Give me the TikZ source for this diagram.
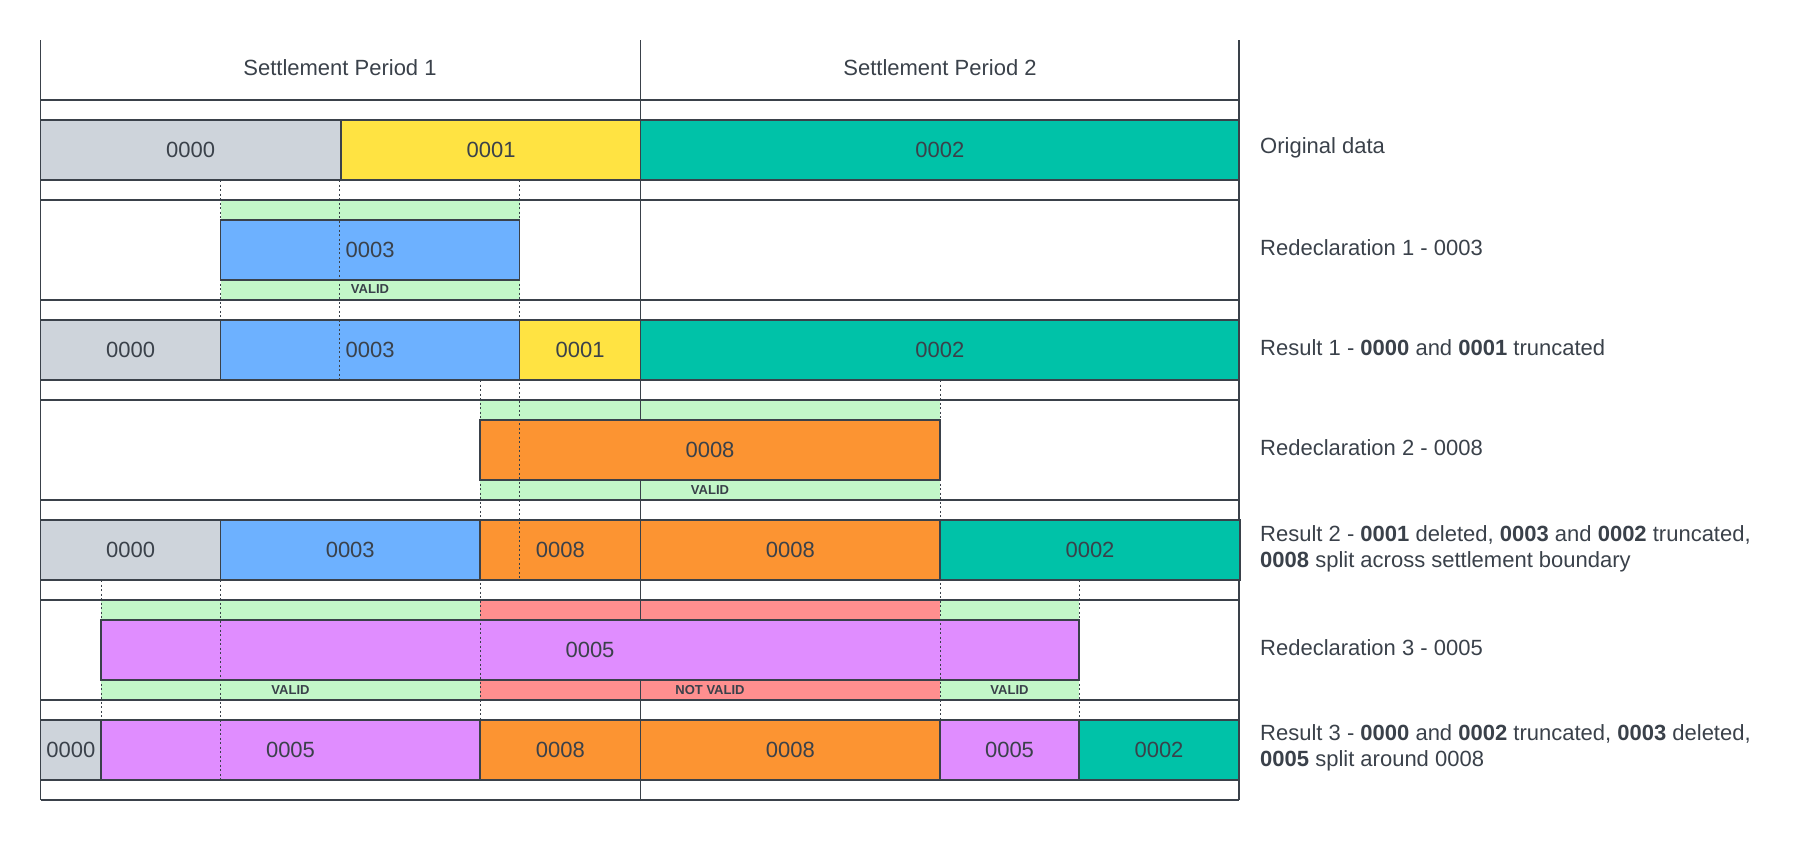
\documentclass[tikz,border=0pt]{standalone}
\usepackage{fontspec}
\setmainfont{Liberation Sans}
\definecolor{ink}{HTML}{3A414A}
\definecolor{cgray}{HTML}{CED4DB}
\definecolor{cyellow}{HTML}{FFE342}
\definecolor{cteal}{HTML}{00C2A8}
\definecolor{cblue}{HTML}{6DB1FF}
\definecolor{corange}{HTML}{FC9432}
\definecolor{cpurple}{HTML}{E08DFF}
\definecolor{bgreen}{HTML}{C3F7C8}
\definecolor{bred}{HTML}{FF8F8F}
\tikzset{
  gridline/.style={draw=ink, line width=1.3pt},
  barbox/.style={draw=ink, line width=1.3pt, minimum height=60pt, inner sep=0pt, outer sep=0pt,
    text=ink, font=\fontsize{22}{26}\selectfont, anchor=west},
  guide/.style={draw=ink, line width=0.8pt, dash pattern=on 2pt off 2.5pt},
  tag/.style={text=ink, font=\bfseries\fontsize{13}{15}\selectfont, inner sep=0pt},
  rowlabel/.style={text=ink, font=\fontsize{22}{26}\selectfont, anchor=west, align=left, inner sep=0pt},
  headlabel/.style={text=ink, font=\fontsize{22}{26}\selectfont, inner sep=0pt},
}
\newcommand\segbar[6]{\node[barbox, fill=#4, minimum width={#2-#1}] (#6) at (#1,#3) {#5};}
\begin{document}
\begin{tikzpicture}[x=1pt,y=-1pt]
\useasboundingbox (0,0) rectangle (1820,841);
% validity bands
\fill[bgreen] (220.5,200) rectangle (519.6,220);
\fill[bgreen] (220.5,280) rectangle (519.6,300);
\fill[bgreen] (480,400) rectangle (940,420);
\fill[bgreen] (480,480) rectangle (940,500);
\fill[bgreen] (101,600) rectangle (480,620);
\fill[bgreen] (101,680) rectangle (480,700);
\fill[bred] (480,600) rectangle (940,620);
\fill[bred] (480,680) rectangle (940,700);
\fill[bgreen] (940,600) rectangle (1079,620);
\fill[bgreen] (940,680) rectangle (1079,700);
% grid
\foreach \yy in {100,200,...,800} {\draw[gridline] (40.6,\yy) -- (1239,\yy);}
\draw[gridline] (40.6,40) -- (40.6,800);
\draw[gridline] (640.6,40) -- (640.6,800);
\draw[gridline] (1239,40) -- (1239,800);
% header
\node[headlabel] (sp1) at (340,68) {Settlement Period 1};
\node[headlabel] (sp2) at (940,68) {Settlement Period 2};
% row 1
\segbar{40.6}{340.6}{150}{cgray}{0000}{r1a}
\segbar{341.8}{640.6}{150}{cyellow}{0001}{r1b}
\segbar{640.6}{1239}{150}{cteal}{0002}{r1c}
% row 2
\segbar{220.5}{519.6}{250}{cblue}{0003}{r2a}
\node[tag] (v1) at (370,289) {VALID};
% row 3
\segbar{40.6}{220.5}{350}{cgray}{0000}{r3a}
\segbar{220.5}{519.6}{350}{cblue}{0003}{r3b}
\segbar{519.6}{640.6}{350}{cyellow}{0001}{r3c}
\segbar{640.6}{1239}{350}{cteal}{0002}{r3d}
% row 4
\segbar{480}{940}{450}{corange}{0008}{r4a}
\node[tag] (v2) at (710,490) {VALID};
% row 5
\segbar{40.6}{220.5}{550}{cgray}{0000}{r5a}
\segbar{220.5}{480}{550}{cblue}{0003}{r5b}
\segbar{480}{640.6}{550}{corange}{0008}{r5c}
\segbar{640.6}{940}{550}{corange}{0008}{r5d}
\segbar{940}{1240}{550}{cteal}{0002}{r5e}
% row 6
\segbar{101}{1079}{650}{cpurple}{0005}{r6a}
\node[tag] (v3) at (290.5,690) {VALID};
\node[tag] (nv) at (710,690) {NOT VALID};
\node[tag] (v4) at (1009.5,690) {VALID};
% row 7
\segbar{40.6}{101}{750}{cgray}{0000}{r7a}
\segbar{101}{480}{750}{cpurple}{0005}{r7b}
\segbar{480}{640.6}{750}{corange}{0008}{r7c}
\segbar{640.6}{940}{750}{corange}{0008}{r7d}
\segbar{940}{1079}{750}{cpurple}{0005}{r7e}
\segbar{1079}{1239}{750}{cteal}{0002}{r7f}
% guide lines
\draw[guide] (220.5,180) -- (220.5,320);
\draw[guide] (339.5,180) -- (339.5,380);
\draw[guide] (519.6,180) -- (519.6,580);
\draw[guide] (480,380) -- (480,720);
\draw[guide] (940,380) -- (940,720);
\draw[guide] (101,580) -- (101,720);
\draw[guide] (220.5,580) -- (220.5,780);
\draw[guide] (1079,580) -- (1079,720);
% row labels
\node[rowlabel] (l1) at (1260,148) {Original data};
\node[rowlabel] (l2) at (1260,248) {Redeclaration 1 - 0003};
\node[rowlabel] (l3) at (1260,348) {Result 1 - \textbf{0000} and \textbf{0001} truncated};
\node[rowlabel] (l4) at (1260,448) {Redeclaration 2 - 0008};
\node[rowlabel] (l5) at (1260,549) {Result 2 - \textbf{0001} deleted, \textbf{0003} and \textbf{0002} truncated,\\\textbf{0008} split across settlement boundary};
\node[rowlabel] (l6) at (1260,648) {Redeclaration 3 - 0005};
\node[rowlabel] (l7) at (1260,748) {Result 3 - \textbf{0000} and \textbf{0002} truncated, \textbf{0003} deleted,\\\textbf{0005} split around 0008};
\end{tikzpicture}
\end{document}
